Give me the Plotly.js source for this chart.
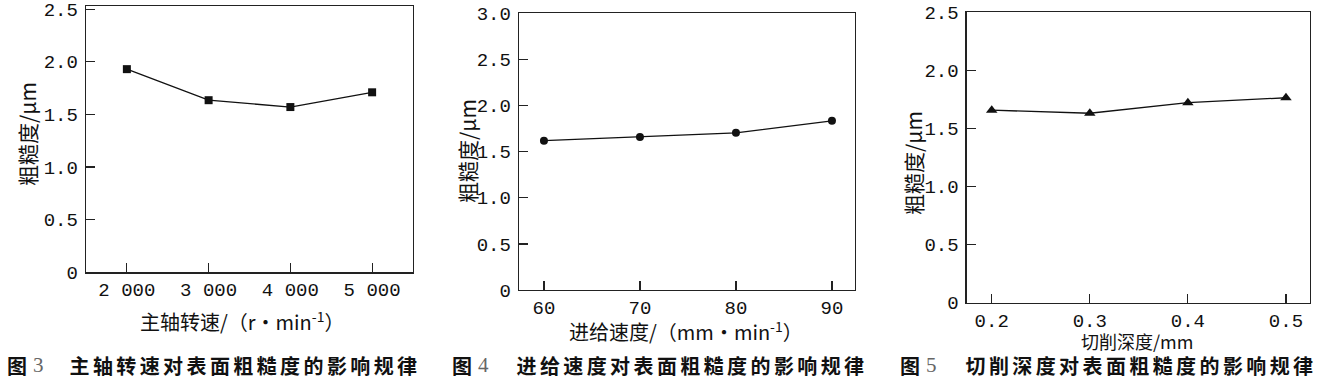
<!DOCTYPE html>
<html>
<head>
<meta charset="utf-8">
<script src="https://cdn.plot.ly/plotly-3.0.1.min.js"></script>
<style>html,body{margin:0;padding:0;background:#fff;}#chart{width:1324px;height:380px;}</style>
</head>
<body>
<div id="chart"></div>
<script>
// ---- data ----
var spindleSpeed = [2000, 3000, 4000, 5000];
var spindleTickText = ['2 000', '3 000', '4 000', '5 000'];
var roughnessBySpeed = [1.93, 1.635, 1.57, 1.71];

var feedRate = [60, 70, 80, 90];
var feedTickText = ['60', '70', '80', '90'];
var roughnessByFeed = [1.62, 1.66, 1.705, 1.835];

var cutDepth = [0.2, 0.3, 0.4, 0.5];
var depthTickText = ['0.2', '0.3', '0.4', '0.5'];
var roughnessByDepth = [1.66, 1.633, 1.724, 1.767];

var yTickVals25 = [0, 0.5, 1.0, 1.5, 2.0, 2.5];
var yTickText25 = ['0', '0.5', '1.0', '1.5', '2.0', '2.5'];
var yTickVals30 = [0, 0.5, 1.0, 1.5, 2.0, 2.5, 3.0];
var yTickText30 = ['0', '0.5', '1.0', '1.5', '2.0', '2.5', '3.0'];

var yTitle = '粗糙度/μm';
var xTitles = ['主轴转速/（r•min<sup>-1</sup>）', '进给速度/（mm•min<sup>-1</sup>）', '切削深度/mm'];
var figNums = ['3', '4', '5'];
var captions = ['主轴转速对表面粗糙度的影响规律', '进给速度对表面粗糙度的影响规律', '切削深度对表面粗糙度的影响规律'];

// ---- layout helpers ----
var W = 1324, H = 380;
function px(x) { return x / W; }
function py(y) { return 1 - y / H; }

var tickFont = {family: 'Liberation Mono, DejaVu Sans Mono, monospace', size: 19, color: '#111'};
var cjk = 'Noto Sans CJK SC, sans-serif';

function xax(dom, range, vals, text) {
  return {domain: [px(dom[0]), px(dom[1])], range: range, tickmode: 'array', tickvals: vals, ticktext: text,
    ticks: 'inside', ticklen: 9, tickwidth: 1.2, tickcolor: '#222', showline: true, mirror: true,
    linecolor: '#222', linewidth: 1.3, showgrid: false, zeroline: false, tickfont: tickFont, fixedrange: true,
    ticklabeloverflow: 'allow'};
}
function yax(dom, range, vals, text, anchor) {
  return {domain: [py(dom[1]), py(dom[0])], range: range, tickmode: 'array', tickvals: vals, ticktext: text,
    ticks: 'inside', ticklen: 9, tickwidth: 1.2, tickcolor: '#222', showline: true, mirror: true,
    linecolor: '#222', linewidth: 1.3, showgrid: false, zeroline: false, tickfont: tickFont, anchor: anchor,
    ticklabelstandoff: 3, fixedrange: true, ticklabeloverflow: 'allow'};
}

var lineStyle = {color: '#111', width: 1.3};
var traces = [
  {x: spindleSpeed, y: roughnessBySpeed, xaxis: 'x', yaxis: 'y', mode: 'lines+markers', line: lineStyle,
   marker: {symbol: 'square', size: 8, color: '#111'}, cliponaxis: false},
  {x: feedRate, y: roughnessByFeed, xaxis: 'x2', yaxis: 'y2', mode: 'lines+markers', line: lineStyle,
   marker: {symbol: 'circle', size: 8, color: '#111'}, cliponaxis: false},
  {x: cutDepth, y: roughnessByDepth, xaxis: 'x3', yaxis: 'y3', mode: 'lines+markers', line: lineStyle,
   marker: {symbol: 'triangle-up', size: 10, color: '#111'}, cliponaxis: false}
];

var annotations = [];
var yTitlePos = [[27, 134], [467, 151], [913, 163]];
var xTitlePos = [[242, 321], [686, 331], [1137, 341]];
var xTitleSize = [20, 20, 18];
var capFigPos = [5, 450, 898];
var capNumPos = [38, 483, 931];
var capTextCenter = [245, 692, 1141];
var capY = 365;
for (var i = 0; i < 3; i++) {
  annotations.push({xref: 'paper', yref: 'paper', x: px(yTitlePos[i][0]), y: py(yTitlePos[i][1]), text: yTitle,
    textangle: -90, showarrow: false, xanchor: 'center', yanchor: 'middle', font: {family: cjk, size: 21, color: '#111'}});
  annotations.push({xref: 'paper', yref: 'paper', x: px(xTitlePos[i][0]), y: py(xTitlePos[i][1]), text: xTitles[i],
    showarrow: false, xanchor: 'center', yanchor: 'middle', font: {family: cjk, size: xTitleSize[i], color: '#111'}});
}
var capStart = annotations.length;
for (var j = 0; j < 3; j++) {
  annotations.push({xref: 'paper', yref: 'paper', x: px(capFigPos[j]), y: py(capY), text: '图',
    showarrow: false, xanchor: 'left', yanchor: 'middle', font: {family: cjk, size: 20, color: '#111', weight: 'bold'}});
  annotations.push({xref: 'paper', yref: 'paper', x: px(capNumPos[j]), y: py(capY), text: figNums[j],
    showarrow: false, xanchor: 'center', yanchor: 'middle', font: {family: 'Liberation Serif, serif', size: 21, color: '#666'}});
  annotations.push({xref: 'paper', yref: 'paper', x: px(capTextCenter[j]), y: py(capY), text: captions[j],
    showarrow: false, xanchor: 'center', yanchor: 'middle', font: {family: cjk, size: 20, color: '#111', weight: 'bold'}});
}

var layout = {
  width: W, height: H, margin: {l: 0, r: 0, t: 0, b: 0}, showlegend: false,
  paper_bgcolor: '#fff', plot_bgcolor: '#fff',
  xaxis: xax([86, 413], [1500, 5500], spindleSpeed, spindleTickText),
  yaxis: yax([6, 272.3], [0, 2.53], yTickVals25, yTickText25, 'x'),
  xaxis2: xax([519, 855], [57.4, 92.4], feedRate, feedTickText),
  yaxis2: yax([13.3, 290], [0, 3.001], yTickVals30, yTickText30, 'x2'),
  xaxis3: xax([966.7, 1310], [0.1745, 0.5245], cutDepth, depthTickText),
  yaxis3: yax([12, 302.7], [0, 2.506], yTickVals25, yTickText25, 'x3'),
  annotations: annotations
};
layout.xaxis.anchor = 'y';
layout.xaxis2.anchor = 'y2';
layout.xaxis3.anchor = 'y3';

Plotly.newPlot('chart', traces, layout, {displayModeBar: false, staticPlot: true}).then(function () {
  var anns = document.querySelectorAll('.annotation');
  anns.forEach(function (a) {
    var idx = +a.getAttribute('data-index');
    if (idx >= capStart && (idx - capStart) % 3 === 2) {
      var ts = a.querySelectorAll('text');
      ts.forEach(function (t) { t.style.letterSpacing = '3.4px'; });
    }
  });
});
</script>
</body>
</html>
